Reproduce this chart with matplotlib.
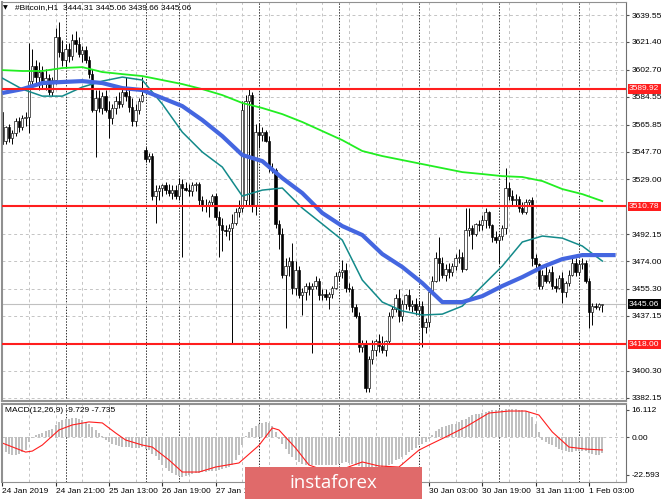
import matplotlib
matplotlib.use("Agg")
import matplotlib.pyplot as plt
from matplotlib.patches import Rectangle

# H1 candles, 24 Jan 05:00 .. 1 Feb 07:00
opens = [3574, 3555, 3564, 3557, 3560, 3568, 3564, 3570, 3571, 3595,
         3605, 3598, 3601, 3593, 3597, 3588, 3596, 3625, 3615, 3609,
         3617, 3612, 3623, 3620, 3613, 3616, 3609, 3600, 3576, 3584,
         3577, 3585, 3576, 3570, 3577, 3582, 3580, 3588, 3585, 3578,
         3568, 3576, 3582, 3549, 3543, 3545, 3518, 3521, 3523, 3525,
         3522, 3520, 3522, 3518, 3526, 3523, 3522, 3521, 3525, 3526,
         3515, 3512, 3511, 3514, 3518, 3504, 3498, 3495, 3494, 3496,
         3500, 3507, 3510, 3515, 3582, 3586, 3512, 3561, 3559, 3561,
         3555, 3537, 3535, 3499, 3492, 3465, 3471, 3474, 3456, 3468,
         3451, 3453, 3457, 3455, 3457, 3461, 3451, 3452, 3450, 3452,
         3456, 3464, 3467, 3468, 3456, 3455, 3443, 3437, 3416, 3418,
         3389, 3408, 3414, 3420, 3417, 3414, 3420, 3437, 3442, 3449,
         3437, 3445, 3451, 3444, 3445, 3441, 3444, 3430, 3433, 3453,
         3461, 3476, 3473, 3465, 3469, 3467, 3471, 3476, 3477, 3469,
         3495, 3496, 3492, 3499, 3498, 3502, 3507, 3498, 3490, 3488,
         3491, 3496, 3523, 3518, 3515, 3516, 3510, 3507, 3514, 3515,
         3476, 3472, 3457, 3465, 3461, 3467, 3457, 3456, 3463, 3453,
         3459, 3465, 3473, 3467, 3472, 3473, 3461, 3440, 3444, 3443,
         3444.31]
highs = [3576, 3565, 3566, 3562, 3570, 3571, 3572, 3574, 3621, 3617,
         3609, 3608, 3605, 3603, 3600, 3598, 3631, 3635, 3623, 3620,
         3621, 3627, 3629, 3625, 3619, 3619, 3612, 3603, 3589, 3589,
         3588, 3589, 3582, 3580, 3585, 3588, 3590, 3598, 3590, 3584,
         3580, 3584, 3598, 3551, 3547, 3547, 3525, 3525, 3526, 3527,
         3526, 3525, 3525, 3530, 3529, 3527, 3526, 3527, 3527, 3527,
         3518, 3516, 3515, 3519, 3520, 3508, 3503, 3498, 3499, 3506,
         3510, 3515, 3582, 3586, 3590, 3588, 3566, 3567, 3564, 3562,
         3558, 3540, 3537, 3502, 3496, 3476, 3477, 3486, 3474, 3471,
         3456, 3459, 3460, 3459, 3464, 3463, 3455, 3455, 3453, 3457,
         3467, 3468, 3475, 3473, 3459, 3457, 3445, 3440, 3421, 3421,
         3410, 3421, 3422, 3425, 3424, 3421, 3440, 3444, 3452, 3455,
         3448, 3452, 3455, 3448, 3449, 3447, 3447, 3436, 3456, 3464,
         3480, 3490, 3477, 3472, 3473, 3473, 3479, 3482, 3480, 3510,
         3510, 3498, 3500, 3502, 3505, 3510, 3508, 3499, 3494, 3492,
         3498, 3537, 3527, 3522, 3519, 3518, 3514, 3516, 3516, 3517,
         3479, 3473, 3468, 3471, 3469, 3471, 3463, 3465, 3467, 3461,
         3468, 3476, 3476, 3475, 3476, 3475, 3463, 3446, 3446, 3446,
         3445.06]
lows = [3552, 3553, 3554, 3553, 3558, 3561, 3562, 3565, 3560, 3590,
        3593, 3589, 3590, 3589, 3586, 3585, 3593, 3611, 3605, 3604,
        3608, 3609, 3615, 3611, 3608, 3607, 3597, 3574, 3544, 3574,
        3573, 3574, 3557, 3566, 3573, 3577, 3578, 3582, 3574, 3565,
        3565, 3573, 3581, 3541, 3541, 3515, 3500, 3515, 3518, 3519,
        3518, 3516, 3516, 3515, 3477, 3521, 3518, 3518, 3521, 3512,
        3508, 3507, 3504, 3511, 3502, 3477, 3481, 3491, 3488, 3419,
        3498, 3504, 3507, 3511, 3512, 3507, 3505, 3550, 3555, 3554,
        3534, 3533, 3496, 3482, 3463, 3429, 3464, 3452, 3451, 3449,
        3438, 3448, 3451, 3412, 3455, 3448, 3448, 3448, 3442, 3449,
        3455, 3461, 3463, 3453, 3453, 3440, 3436, 3413, 3413, 3386,
        3386, 3405, 3410, 3413, 3412, 3410, 3418, 3436, 3440, 3433,
        3434, 3442, 3441, 3440, 3438, 3438, 3416, 3426, 3430, 3452,
        3460, 3461, 3463, 3461, 3463, 3464, 3468, 3473, 3467, 3468,
        3491, 3482, 3491, 3494, 3495, 3496, 3496, 3487, 3486, 3473,
        3488, 3492, 3515, 3512, 3511, 3507, 3506, 3506, 3511, 3471,
        3469, 3455, 3455, 3459, 3459, 3455, 3453, 3455, 3446, 3450,
        3457, 3464, 3464, 3465, 3469, 3459, 3429, 3431, 3442, 3441,
        3439.66]
closes = [3553, 3564, 3557, 3560, 3568, 3564, 3570, 3571, 3595, 3605,
          3598, 3601, 3593, 3597, 3588, 3596, 3625, 3615, 3609, 3617,
          3612, 3623, 3620, 3613, 3616, 3609, 3600, 3576, 3584, 3577,
          3585, 3576, 3570, 3577, 3582, 3580, 3588, 3585, 3578, 3568,
          3576, 3582, 3586, 3543, 3545, 3518, 3521, 3523, 3525, 3522,
          3520, 3522, 3518, 3526, 3523, 3522, 3521, 3525, 3526, 3515,
          3512, 3511, 3514, 3518, 3504, 3498, 3495, 3494, 3496, 3500,
          3507, 3510, 3576, 3582, 3586, 3512, 3561, 3559, 3561, 3555,
          3537, 3535, 3499, 3492, 3465, 3471, 3474, 3456, 3468, 3451,
          3453, 3457, 3455, 3457, 3461, 3451, 3452, 3450, 3452, 3456,
          3464, 3467, 3468, 3456, 3455, 3443, 3437, 3416, 3418, 3389,
          3408, 3414, 3420, 3417, 3414, 3420, 3437, 3442, 3449, 3437,
          3445, 3451, 3444, 3445, 3441, 3444, 3430, 3433, 3453, 3461,
          3476, 3473, 3465, 3469, 3467, 3471, 3476, 3477, 3469, 3495,
          3496, 3492, 3499, 3498, 3502, 3507, 3498, 3490, 3488, 3491,
          3496, 3523, 3518, 3515, 3516, 3510, 3507, 3514, 3515, 3476,
          3472, 3457, 3465, 3461, 3467, 3457, 3456, 3463, 3453, 3459,
          3465, 3473, 3467, 3472, 3473, 3461, 3440, 3444, 3443, 3445,
          3445.06]

# moving averages, read every 6th bar
ma_idx = list(range(0, 181, 6))
ma_green = [3602.5, 3601.9, 3601.9, 3603.9, 3604.5, 3601.2, 3599.8, 3598.5, 3595.8, 3593.1,
            3589.7, 3585.7, 3580.4, 3577.0, 3572.9, 3567.6, 3561.5, 3555.4, 3548.1, 3544.7,
            3542.0, 3539.3, 3536.6, 3533.9, 3532.6, 3531.2, 3530.6, 3527.9, 3522.5, 3519.1,
            3514.4]
ma_teal = [3597.1, 3589.7, 3585.0, 3585.0, 3591.1, 3595.1, 3597.8, 3595.8, 3579.7, 3560.8,
           3547.4, 3537.3, 3517.8, 3521.8, 3523.2, 3509.7, 3499.0, 3488.2, 3461.3, 3446.5,
           3440.5, 3437.8, 3438.4, 3443.8, 3457.3, 3470.7, 3486.9, 3490.9, 3489.5, 3484.2,
           3474.1]
blue_idx = ma_idx + [184]
ma_blue = [3587.1, 3589.7, 3593.8, 3594.5, 3595.1, 3593.8, 3590.4, 3589.1, 3583.7, 3578.3,
           3568.9, 3558.1, 3545.4, 3541.3, 3529.9, 3519.8, 3506.4, 3497.6, 3491.6, 3478.8,
           3470.1, 3459.3, 3446.5, 3446.5, 3450.5, 3457.3, 3463.3, 3470.1, 3475.4, 3478.1,
           3478.1, 3478.1]

levels = [3589.92, 3510.78, 3418.00]
bid = 3445.06
price_ticks = [3639.55, 3621.40, 3602.70, 3584.55, 3565.85, 3547.70, 3529.00,
               3492.15, 3474.00, 3455.30, 3437.15, 3400.30, 3382.15]

# MACD(12,26,9)
macd_hist = [-8, -9, -10, -10.5, -10.5, -10, -9, -7.5, -3, -0.5,
             1, 2, 2.5, 3.5, 4, 5, 7, 9, 10, 10.5,
             11, 11.3, 11.5, 11, 10, 9, 8, 6, 4, 2.5,
             0.5, -1.5, -3, -4, -5, -5.5, -6, -6, -6, -6.5,
             -6.5, -6.5, -6, -7, -8, -10, -11.5, -14, -16.5, -18.5,
             -20, -21.5, -22.5, -23.5, -24, -23.5, -22.5, -22, -21.5, -21.5,
             -21, -21, -20.5, -20, -20, -19.5, -19, -18.5, -18, -16.5,
             -13.5, -10.5, -5, 0.5, 3, 5.5, 6.5, 7.5, 8.5, 9,
             8.5, 6.5, 3, -1, -4, -7, -10, -12, -14, -15,
             -16, -16.5, -17, -17, -17, -16.5, -16.5, -17, -17, -17,
             -16.5, -16, -15.5, -15, -15.5, -16, -16.5, -17.5, -18, -19,
             -19.5, -19.5, -19, -18.5, -18, -18, -17, -16, -14, -13,
             -12, -10.5, -9, -7.5, -6.5, -5, -4, -3, -1, 1,
             3.5, 5, 6, 6.5, 7, 7.5, 8, 9, 10, 11,
             12, 13, 13.5, 14, 14.5, 15, 15.5, 16, 16, 16,
             16, 16.5, 17, 17, 16.5, 16, 16, 15.5, 15, 12,
             8, 3, -1.5, -3, -4, -5, -6, -7, -8, -8.5,
             -9, -9, -8.5, -8.5, -8.5, -8.5, -9.5, -10, -10.5, -10.5,
             -9.729]
sig_idx = [0, 7, 9, 12, 17, 21, 26, 30, 34, 37, 42, 45, 50, 54, 59, 64, 71, 77, 81,
           83, 88, 92, 98, 103, 108, 113, 119, 125, 128, 133, 139, 146, 152, 157,
           161, 165, 170, 175, 180]
sig_vals = [-3.6, -9.0, -8.4, -4.8, 4.2, 7.2, 9.0, 8.4, 2.4, -1.8, -4.8, -6.0, -13.7,
            -20.9, -20.9, -17.9, -15.5, -5.0, 5.4, 4.2, -6.6, -16.7, -20.9, -18.5,
            -14.9, -17.3, -17.9, -7.8, -4.8, 0.0, 6.0, 14.3, 15.5, 15.5, 13.1, 3.0,
            -6.0, -7.2, -7.735]
macd_ticks = [16.112, 0.0, -22.593]
macd_tick_labels = ["16.112", "0.00", "-22.593"]

# time labels every 16 bars (the three under the watermark are hidden there)
time_idx = [0, 16, 32, 48, 64, 128, 144, 160, 176]
time_labels = ["24 Jan 2019", "24 Jan 21:00", "25 Jan 13:00", "26 Jan 19:00",
               "27 Jan 11:00", "30 Jan 03:00", "30 Jan 19:00", "31 Jan 11:00",
               "1 Feb 03:00"]
day_starts = [19, 43, 53, 77, 101, 125, 149, 173]

plt.rcParams['font.family'] = ['Liberation Sans', 'DejaVu Sans']
FS = 6.0
W, H = 665, 499


def box(l, t, r, b):
    # pixel box -> figure fraction
    return [l / W, 1 - b / H, (r - l) / W, (b - t) / H]


fig = plt.figure(figsize=(W / 100, H / 100), dpi=100)
ax = fig.add_axes(box(2, 2, 626, 401))
axm = fig.add_axes(box(2, 404, 626, 482))

xmin = -0.09
xmax = xmin + 624 / 3.3333
for a in (ax, axm):
    a.set_xlim(xmin, xmax)
    for s in a.spines.values():
        s.set_color('#909090')
    a.spines['right'].set_color('#707070')
    a.spines['left'].set_linewidth(1.5)
    # grid: every 8 bars + day separators
    for k in range(8, 188, 8):
        a.axvline(k, color='#c4c4c4', lw=0.7, ls=(0, (3, 3)), zorder=0)
    for d in day_starts:
        a.axvline(d, color='#303030', lw=0.7, ls=(0, (1.5, 1.5)), zorder=0.5)
ax.spines['bottom'].set_linewidth(1.5)
axm.spines['top'].set_linewidth(1.5)

ax.set_ylim(3379.97, 3648.3)
for p in price_ticks + [3510.85]:
    ax.axhline(p, color='#c4c4c4', lw=0.7, ls=(0, (3, 3)), zorder=0)
ax.axhline(bid, color='#c0c0c0', lw=0.8, zorder=1)

# candles
for i in range(len(opens)):
    o, h, l, c = opens[i], highs[i], lows[i], closes[i]
    ax.vlines(i, l, h, color='black', lw=0.7, zorder=2)
    face = 'white' if c >= o else 'black'
    ax.add_patch(Rectangle((i - 0.35, min(o, c)), 0.7, max(abs(c - o), 0.5),
                           facecolor=face, edgecolor='black', lw=0.45, zorder=2.1))

ax.plot(ma_idx, ma_green, color='#22ee22', lw=1.3, zorder=3)
ax.plot(ma_idx, ma_teal, color='#138a8a', lw=1.1, zorder=3)
ax.plot(blue_idx, ma_blue, color='#4466e0', lw=3.0, zorder=3.2, solid_capstyle='butt')
for lv in levels:
    ax.axhline(lv, color='#ff1e1e', lw=1.5, zorder=4)

ax.set_xticks([])
ax.yaxis.tick_right()
ax.set_yticks(price_ticks)
ax.set_yticklabels(['%.2f' % p for p in price_ticks])
ax.tick_params(axis='y', length=2.5, pad=1.5, labelsize=FS, color='#505050')

tr = ax.get_yaxis_transform()
for lv in levels:
    ax.text(1.0 + 3 / 624, lv, '%.2f' % lv, transform=tr, fontsize=FS, color='white',
            va='center', ha='left', zorder=6, clip_on=False,
            bbox=dict(boxstyle='square,pad=0.15', fc='#ff1e1e', ec='none'))
ax.text(1.0 + 3 / 624, bid, '%.2f' % bid, transform=tr, fontsize=FS, color='white',
        va='center', ha='left', zorder=6, clip_on=False,
        bbox=dict(boxstyle='square,pad=0.15', fc='black', ec='none'))

# MACD panel
axm.set_ylim(-26.85, 19.69)
axm.axhline(0, color='#c4c4c4', lw=0.7, ls=(0, (3, 3)), zorder=0)
axm.bar(range(len(macd_hist)), macd_hist, width=0.6, color='#c0c0c0', zorder=1)
axm.plot(sig_idx, sig_vals, color='#ff1e1e', lw=0.8, zorder=2)
axm.yaxis.tick_right()
axm.set_yticks(macd_ticks)
axm.set_yticklabels(macd_tick_labels)
axm.tick_params(axis='y', length=2.5, pad=1.5, labelsize=FS, color='#505050')
axm.set_xticks(time_idx)
axm.set_xticklabels(time_labels, ha='left')
axm.tick_params(axis='x', length=3, pad=1.5, labelsize=FS, color='#303030')

fig.text(3 / W, 1 - 8 / H, '\u25bc', fontsize=4.5, va='center', ha='left',
         family='DejaVu Sans')
fig.text(15 / W, 1 - 8 / H, '#Bitcoin,H1  3444.31 3445.06 3439.66 3445.06',
         fontsize=FS, va='center', ha='left')
fig.text(5 / W, 1 - 411 / H, 'MACD(12,26,9) -9.729 -7.735', fontsize=FS,
         va='center', ha='left')

# instaforex watermark
fig.patches.append(Rectangle((245 / W, 0), 177 / W, 32 / H, transform=fig.transFigure,
                             facecolor='#e06a6a', edgecolor='none', zorder=10))
fig.text(333 / W, 1 - 483 / H, 'instaforex', fontsize=13.5, color='white',
         family='Open Sans', va='center', ha='center', zorder=11)

fig.savefig('out.png', dpi=100)
